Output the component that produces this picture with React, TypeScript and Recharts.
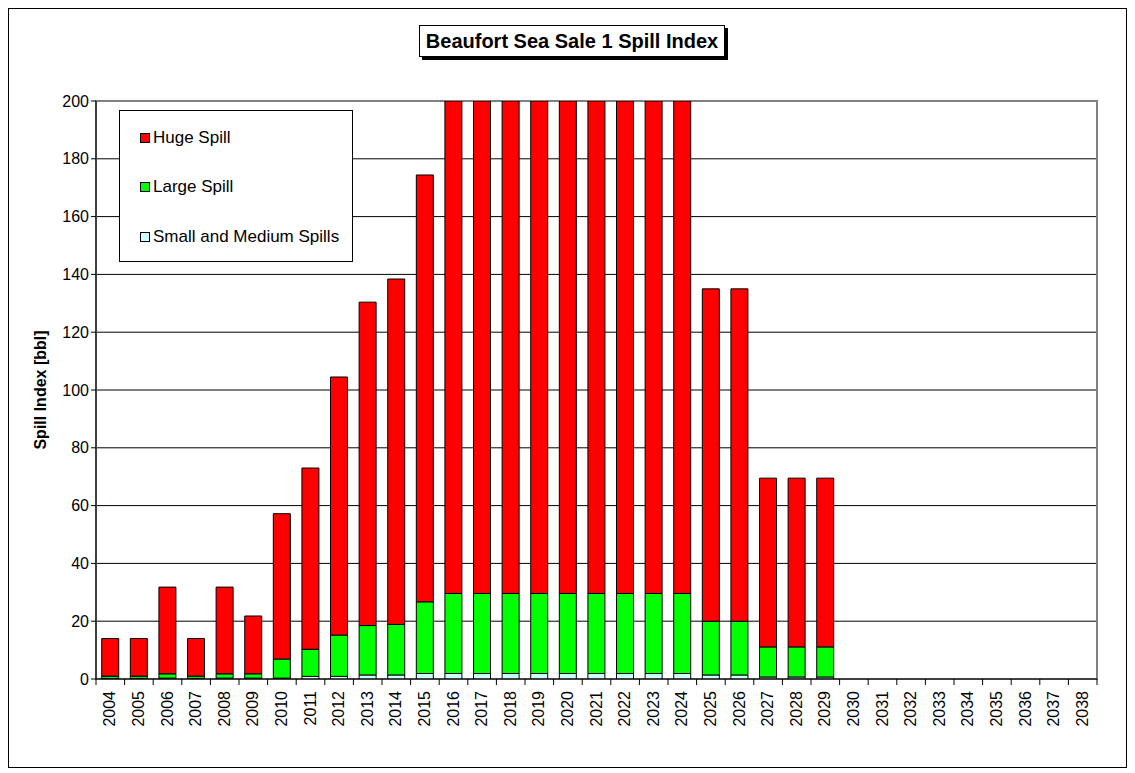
import React from 'react'
import {
  ComposedChart, Bar, XAxis, YAxis, CartesianGrid, Legend, ReferenceArea,
} from 'recharts'

const years = [
  '2004', '2005', '2006', '2007', '2008', '2009', '2010', '2011', '2012', '2013',
  '2014', '2015', '2016', '2017', '2018', '2019', '2020', '2021', '2022', '2023',
  '2024', '2025', '2026', '2027', '2028', '2029', '2030', '2031', '2032', '2033',
  '2034', '2035', '2036', '2037', '2038',
]

// bottom segment
const smallMedium = [
  0.2, 0.2, 0.3, 0.2, 0.3, 0.3, 0.3, 0.9, 0.9, 1.4,
  1.4, 1.9, 1.9, 1.9, 1.9, 1.9, 1.9, 1.9, 1.9, 1.9,
  1.9, 1.4, 1.4, 0.7, 0.7, 0.7, 0, 0, 0, 0,
  0, 0, 0, 0, 0,
]

const large = [
  0.8, 0.8, 1.5, 0.8, 1.5, 1.5, 6.6, 9.4, 14.3, 17.1,
  17.5, 24.8, 27.7, 27.7, 27.7, 27.7, 27.7, 27.7, 27.7, 27.7,
  27.7, 18.6, 18.6, 10.4, 10.4, 10.4, 0, 0, 0, 0,
  0, 0, 0, 0, 0,
]

// 2016-2024 run off the top of the axis
const huge = [
  13, 13, 30, 13, 30, 20, 50.3, 62.7, 89.3, 111.9,
  119.5, 147.7, 250, 250, 250, 250, 250, 250, 250, 250,
  250, 115, 115, 58.4, 58.4, 58.4, 0, 0, 0, 0,
  0, 0, 0, 0, 0,
]

const yTicks = [0, 20, 40, 60, 80, 100, 120, 140, 160, 180, 200]

const data = years.map((year, i) => ({
  year,
  small: smallMedium[i],
  large: large[i],
  huge: huge[i],
}))

const FONT = '"Liberation Sans", Arial, sans-serif'

function YearTick(props: any) {
  const { x, y, payload, index, width, visibleTicksCount } = props
  const band = width / visibleTicksCount
  return (
    <g>
      <line x1={x - band / 2} y1={y - 8} x2={x - band / 2} y2={y - 2} stroke="#000" />
      {index === visibleTicksCount - 1 && (
        <line x1={x + band / 2} y1={y - 8} x2={x + band / 2} y2={y - 2} stroke="#000" />
      )}
      <text
        x={0}
        y={0}
        transform={`translate(${x + 5},${y + 4}) rotate(-90)`}
        textAnchor="end"
        fontSize={16}
        fontFamily={FONT}
        fill="#000"
      >
        {payload.value}
      </text>
    </g>
  )
}

function LegendBox({ payload }: any) {
  const items = payload ?? []
  return (
    <div
      style={{
        width: 234,
        height: 152,
        border: '1px solid #000',
        background: '#fff',
        boxSizing: 'border-box',
        paddingTop: 2,
        fontFamily: FONT,
        fontSize: 17,
      }}
    >
      {items.map((it: any) => (
        <div key={it.value} style={{ display: 'flex', alignItems: 'center', height: 49.5, paddingLeft: 20 }}>
          <span
            style={{
              display: 'inline-block',
              width: 8,
              height: 8,
              border: '1px solid #000',
              background: it.color,
              marginRight: 3,
            }}
          />
          {it.value}
        </div>
      ))}
    </div>
  )
}

export default function App() {
  return (
    <div
      style={{
        position: 'relative',
        width: 1119,
        height: 760,
        border: '1px solid #000',
        boxSizing: 'border-box',
        background: '#fff',
      }}
    >
      <div
        style={{
          position: 'absolute',
          left: 410,
          top: 16,
          width: 304,
          height: 30,
          border: '1px solid #000',
          boxShadow: '3px 3px 0 #000',
          background: '#fff',
          fontFamily: FONT,
          fontWeight: 'bold',
          fontSize: 20,
          lineHeight: '30px',
          textAlign: 'center',
          zIndex: 2,
        }}
      >
        Beaufort Sea Sale 1 Spill Index
      </div>
      <ComposedChart
        width={1117}
        height={758}
        data={data}
        margin={{ top: 92, right: 29, bottom: 18, left: 27 }}
        barCategoryGap="20%"
      >
        <ReferenceArea y1={0} y2={200} fill="none" stroke="#808080" strokeWidth={2} />
        <CartesianGrid horizontal vertical={false} stroke="#000" strokeOpacity={1} />
        <XAxis
          dataKey="year"
          interval={0}
          height={70}
          tickLine={false}
          axisLine={{ stroke: '#000' }}
          tick={<YearTick />}
        />
        <YAxis
          width={60}
          domain={[0, 200]}
          ticks={yTicks}
          allowDataOverflow
          axisLine={{ stroke: '#000' }}
          tickLine={{ stroke: '#000' }}
          tickSize={5}
          tick={{ fontSize: 16, fontFamily: FONT, fill: '#000' }}
          label={{
            value: 'Spill Index [bbl]',
            angle: -90,
            position: 'insideLeft',
            offset: 4,
            style: { fontSize: 16, fontWeight: 'bold', fontFamily: FONT, fill: '#000', textAnchor: 'middle' },
          }}
        />
        <Legend
          layout="vertical"
          verticalAlign="middle"
          align="center"
          wrapperStyle={{ left: 110, top: 101, width: 'auto' }}
          content={<LegendBox />}
        />
        <Bar dataKey="small" name="Small and Medium Spills" stackId="a" fill="#CCFFFF" stroke="#000" isAnimationActive={false} />
        <Bar dataKey="large" name="Large Spill" stackId="a" fill="#00FF00" stroke="#000" isAnimationActive={false} />
        <Bar dataKey="huge" name="Huge Spill" stackId="a" fill="#FF0000" stroke="#000" isAnimationActive={false} />
      </ComposedChart>
    </div>
  )
}
